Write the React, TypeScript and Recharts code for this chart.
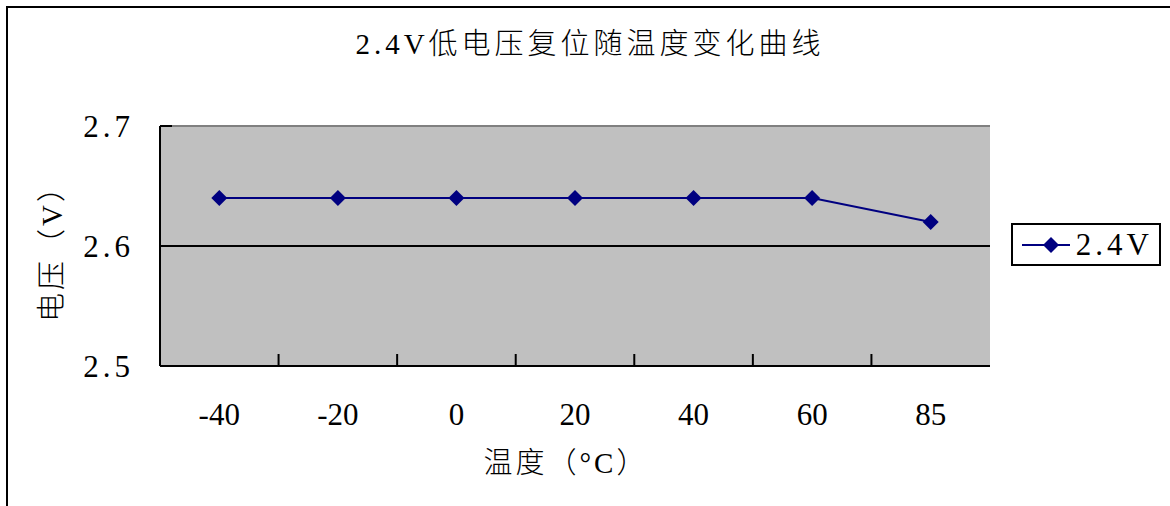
import React from "react";
import {
  LineChart,
  Line,
  XAxis,
  YAxis,
  CartesianGrid,
  ReferenceLine,
  Legend,
  Label,
} from "recharts";

const temperatures = ["-40", "-20", "0", "20", "40", "60", "85"];
const voltage24 = [2.64, 2.64, 2.64, 2.64, 2.64, 2.64, 2.62];
const voltageTicks = [2.5, 2.6, 2.7];

const chartTitle = "2.4V低电压复位随温度变化曲线";
const seriesName = "2.4V";
const yTitle = "电压（V）";
const xTitle = "温度（°C）";

const data = temperatures.map((t, i) => ({ temp: t, v: voltage24[i] }));

const FONT = '"Liberation Serif", "Noto Sans CJK SC", serif';
const NAVY = "#000080";

function Diamond(props: any) {
  const { cx, cy } = props;
  if (cx == null || cy == null) return null;
  const r = 8;
  return (
    <polygon
      points={`${cx},${cy - r} ${cx + r},${cy} ${cx},${cy + r} ${cx - r},${cy}`}
      fill={NAVY}
      stroke="none"
    />
  );
}

function TempTick(props: any) {
  const { x, y, payload, index, visibleTicksCount } = props;
  const half = payload?.offset ?? 0;
  const axisY = y - 37;
  const isLast = index === visibleTicksCount - 1;
  return (
    <g>
      {!isLast && (
        <line
          x1={x + half}
          x2={x + half}
          y1={axisY}
          y2={axisY - 12}
          stroke="#000"
          strokeWidth={2}
        />
      )}
      <text
        x={x}
        y={y}
        dy="0.71em"
        textAnchor="middle"
        fontSize={31}
        fontFamily={FONT}
        fill="#000"
      >
        {payload.value}
      </text>
    </g>
  );
}

function VoltTick(props: any) {
  const { x, y, payload, tickFormatter } = props;
  const label = tickFormatter ? tickFormatter(payload.value) : String(payload.value);
  return (
    <text
      x={x}
      y={y}
      dy="0.36em"
      textAnchor="end"
      fontSize={31}
      fontFamily={FONT}
      fill="#000"
      style={{ letterSpacing: 4 }}
    >
      {label}
    </text>
  );
}

function LegendBox() {
  return (
    <div
      style={{
        display: "flex",
        alignItems: "center",
        border: "2px solid #000",
        background: "#fff",
        height: 43,
        width: 150,
        boxSizing: "border-box",
        padding: "0 6px 0 9px",
      }}
    >
      <svg width={62} height={20} style={{ display: "block" }}>
        <line x1={0} x2={61} y1={10} y2={10} stroke={NAVY} strokeWidth={2} />
        <polygon points="29,2 37,10 29,18 21,10" fill={NAVY} />
      </svg>
      <span
        style={{
          fontFamily: FONT,
          fontSize: 31,
          letterSpacing: 4,
          marginLeft: 6,
          lineHeight: "43px",
        }}
      >
        {seriesName}
      </span>
    </div>
  );
}

export default function App() {
  return (
    <div
      style={{
        position: "absolute",
        left: 0,
        top: 0,
        width: 1170,
        height: 506,
        overflow: "hidden",
        background: "#fff",
      }}
    >
      <div
        style={{
          position: "absolute",
          left: 6,
          top: 6,
          width: 1300,
          height: 700,
          border: "2px solid #000",
        }}
      />
      <div
        style={{
          position: "absolute",
          left: 0,
          top: 22,
          width: 1180,
          textAlign: "center",
          fontFamily: FONT,
          fontSize: 29,
          fontWeight: 300,
          letterSpacing: 4,
          lineHeight: "44px",
          color: "#000",
        }}
      >
        {chartTitle}
      </div>
      <div style={{ position: "absolute", left: 0, top: 0 }}>
        <LineChart
          width={1170}
          height={506}
          data={data}
          margin={{ top: 126, right: 180, bottom: 0, left: 0 }}
        >
          <CartesianGrid
            fill="#C0C0C0"
            fillOpacity={1}
            horizontal={false}
            vertical={false}
          />
          <ReferenceLine y={2.7} stroke="#808080" strokeWidth={2} />
          <ReferenceLine y={2.6} stroke="#000" strokeWidth={2} />
          <XAxis
            dataKey="temp"
            scale="band"
            height={140}
            axisLine={{ stroke: "#000", strokeWidth: 2 }}
            tickLine={false}
            tickSize={0}
            tickMargin={37}
            tick={<TempTick />}
            interval={0}
          >
            <Label
              value={xTitle}
              position="insideBottom"
              offset={33}
              dx={-9}
              fontSize={29}
              fontFamily={FONT}
              fill="#000"
              style={{ letterSpacing: 3, fontWeight: 300 }}
            />
          </XAxis>
          <YAxis
            width={160}
            domain={[2.5, 2.7]}
            ticks={voltageTicks}
            tickFormatter={(v: number) => v.toFixed(1)}
            axisLine={{ stroke: "#000", strokeWidth: 2 }}
            tickLine={{ stroke: "#000", strokeWidth: 2 }}
            tickSize={-12}
            tickMargin={38}
            tick={<VoltTick />}
          >
            <Label
              value={yTitle}
              position="center"
              angle={-90}
              dx={-28}
              fontSize={29}
              fontFamily={FONT}
              fill="#000"
              style={{ letterSpacing: 3, fontWeight: 300 }}
            />
          </YAxis>
          <YAxis
            yAxisId="frame"
            orientation="right"
            width={0}
            tick={false}
            tickLine={false}
            axisLine={{ stroke: "#808080", strokeWidth: 2 }}
          />
          <Legend
            layout="horizontal"
            verticalAlign="middle"
            align="center"
            content={<LegendBox />}
            wrapperStyle={{ left: 1011, top: 223, width: 152, height: 46 }}
          />
          <Line
            type="linear"
            dataKey="v"
            name={seriesName}
            stroke={NAVY}
            strokeWidth={2}
            dot={<Diamond />}
            activeDot={false}
            isAnimationActive={false}
          />
        </LineChart>
      </div>
    </div>
  );
}
